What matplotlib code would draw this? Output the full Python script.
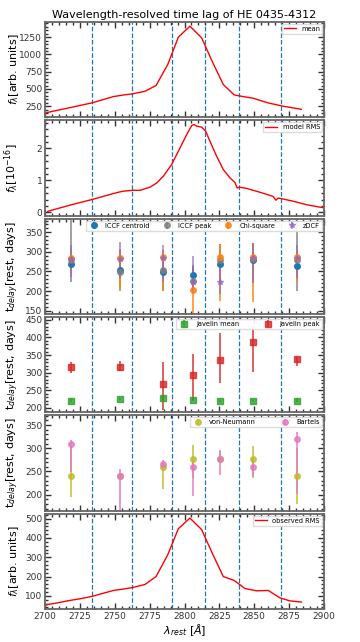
import matplotlib
matplotlib.use("Agg")
import matplotlib.pyplot as plt
import numpy as np
from matplotlib.ticker import AutoMinorLocator, MultipleLocator

# bin edges (dashed lines) and bin wavelengths
bin_edges = [2733.6, 2762.7, 2791.0, 2814.7, 2839.1, 2869.5]
bin_wave = [2718.6, 2753.9, 2784.4, 2805.9, 2825.4, 2848.8, 2880.3]

# mean spectrum
mean_wave = [2700.2, 2708.5, 2716.9, 2725.2, 2733.6, 2741.5, 2749.1, 2756.0, 2762.7, 2771.7,
             2779.6, 2788.0, 2795.6, 2803.9, 2812.3, 2820.1, 2827.8, 2835.6, 2843.3, 2849.2,
             2860.0, 2870.7, 2883.8]
mean_flux = [152, 190, 225, 262, 298, 345, 390, 412, 429, 467,
             550, 854, 1250, 1409, 1240, 888, 564, 414, 385, 366,
             298, 250, 206]

# model rms spectrum
model_wave = [2702.0, 2705.0, 2720.0, 2733.6, 2749.1, 2755.5, 2762.7, 2768.2, 2775.3, 2780.1,
              2784.8, 2790.8, 2796.8, 2801.6, 2805.2, 2806.8, 2808.7, 2812.3, 2815.2, 2818.2,
              2823.0, 2827.8, 2832.6, 2836.1, 2837.8, 2839.2, 2844.5, 2854.0, 2863.5, 2865.5,
              2867.1, 2877.8, 2887.4, 2900.0]
model_flux = [0.03, 0.07, 0.25, 0.40, 0.59, 0.66, 0.69, 0.69, 0.79, 0.92,
              1.13, 1.50, 2.02, 2.44, 2.72, 2.75, 2.70, 2.67, 2.54, 2.23,
              1.76, 1.34, 1.08, 0.94, 0.76, 0.79, 0.75, 0.63, 0.50, 0.38,
              0.45, 0.35, 0.24, 0.14]

# observed rms spectrum
obs_wave = [2700.2, 2708.5, 2716.9, 2725.2, 2733.6, 2741.5, 2749.1, 2756.0, 2762.7, 2771.7,
            2779.6, 2788.0, 2795.6, 2803.9, 2812.3, 2820.1, 2827.8, 2835.6, 2843.3, 2851.7,
            2860.0, 2868.3, 2875.5, 2883.8]
obs_flux = [53, 63, 75, 85, 97, 113, 128, 135, 143, 159,
            200, 313, 448, 503, 443, 318, 200, 180, 138, 126,
            128, 90, 74, 68]

# lags: value, lower error, upper error
iccf_cen = [270, 254, 248, 241, 269, 278, 265]
iccf_cen_lo = [20, 20, 20, 20, 20, 20, 20]
iccf_cen_hi = [20, 20, 20, 20, 20, 20, 20]
iccf_peak = [279, 248, 254, 226, 280, 282, 280]
iccf_peak_lo = [57, 48, 54, 26, 60, 62, 80]
iccf_peak_hi = [140, 60, 40, 40, 40, 40, 120]
chi2 = [285, 285, 286, 203, 286, 286, 286]
chi2_lo = [40, 80, 86, 60, 111, 114, 60]
chi2_hi = [20, 20, 20, 20, 35, 37, 20]
zdcf = [282, 283, 284, 224, 222, 284, 284]
zdcf_lo = [45, 51, 60, 30, 30, 64, 50]
zdcf_hi = [36, 41, 34, 66, 40, 38, 34]

jav_mean = [221, 225, 228, 223, 220, 220, 221]
jav_mean_err = [3, 3, 5, 3, 3, 3, 3]
jav_peak = [317, 317, 269, 292, 335, 388, 340]
jav_peak_lo = [17, 12, 74, 70, 64, 86, 21]
jav_peak_hi = [13, 16, 61, 60, 77, 37, 4]

vn = [241, 241, 259, 276, 276, 276, 241]
vn_lo = [45, 3, 47, 40, 3, 40, 62]
vn_hi = [60, 3, 3, 31, 19, 29, 60]
bartels = [309, 241, 266, 259, 276, 259, 321]
bartels_lo = [60, 80, 7, 62, 33, 22, 120]
bartels_hi = [9, 15, 9, 17, 20, 17, 15]


def style_axis(ax):
    ax.set_xlim(2700, 2900)
    ax.xaxis.set_major_locator(MultipleLocator(25))
    ax.xaxis.set_minor_locator(MultipleLocator(5))
    ax.yaxis.set_minor_locator(AutoMinorLocator(5))
    ax.tick_params(which="both", direction="in", top=True, right=True, labelsize=6.5, colors="0.2", pad=2)
    ax.tick_params(which="major", length=4, width=1)
    ax.tick_params(which="minor", length=2, width=1)
    for spine in ax.spines.values():
        spine.set_color("0.4")
        spine.set_linewidth(1.3)
    for edge in bin_edges:
        ax.axvline(edge, color="tab:blue", linestyle="--", linewidth=0.9, zorder=0)


def add_legend(ax, ncol, spacing=2.0):
    ax.legend(loc="upper right", ncol=ncol, fontsize=4.8, handlelength=1.8, borderpad=0.3,
              columnspacing=spacing, handletextpad=0.8, framealpha=0.9, fancybox=False,
              borderaxespad=0.3, edgecolor="0.85")


def lag(ax, values, lo, hi, color, marker, label, alpha=0.8):
    ax.errorbar(bin_wave, values, yerr=[lo, hi], fmt=marker, color=color, ms=4,
                elinewidth=1.3, alpha=alpha, label=label)


fig, axes = plt.subplots(6, 1, figsize=(3.6, 6.42), dpi=100, sharex=True)
fig.subplots_adjust(left=0.125, right=0.9, top=0.966, bottom=0.051, hspace=0.03)

ax = axes[0]
ax.plot(mean_wave, mean_flux, color="red", lw=1, label="mean")
ax.set_ylabel(r"$f_\lambda$[arb. units]", fontsize=8)
ax.set_title("Wavelength-resolved time lag of HE 0435-4312", fontsize=8, pad=3)
ax.yaxis.set_major_locator(MultipleLocator(250))
add_legend(ax, 1)

ax = axes[1]
ax.plot(model_wave, model_flux, color="red", lw=1, label="model RMS")
ax.set_ylabel(r"$f_\lambda[10^{-16}]$", fontsize=8)
ax.yaxis.set_major_locator(MultipleLocator(1))
add_legend(ax, 1)

ax = axes[2]
lag(ax, iccf_cen, iccf_cen_lo, iccf_cen_hi, "tab:blue", "o", "ICCF centroid", 1.0)
lag(ax, iccf_peak, iccf_peak_lo, iccf_peak_hi, "tab:gray", "o", "ICCF peak")
lag(ax, chi2, chi2_lo, chi2_hi, "tab:orange", "o", "Chi-square")
lag(ax, zdcf, zdcf_lo, zdcf_hi, "tab:purple", "*", "zDCF", 0.7)
ax.set_ylim(141, 385)
ax.yaxis.set_major_locator(MultipleLocator(50))
ax.set_ylabel(r"t$_{delay}$[rest, days]", fontsize=8)
add_legend(ax, 4, 1.6)

ax = axes[3]
lag(ax, jav_mean, jav_mean_err, jav_mean_err, "tab:green", "s", "javelin mean")
lag(ax, jav_peak, jav_peak_lo, jav_peak_hi, "tab:red", "s", "javelin peak")
ax.set_ylim(187, 458)
ax.yaxis.set_major_locator(MultipleLocator(50))
ax.set_ylabel(r"t$_{delay}$[rest, days]", fontsize=8)
add_legend(ax, 2, 3.5)

ax = axes[4]
lag(ax, vn, vn_lo, vn_hi, "tab:olive", "o", "von-Neumann")
lag(ax, bartels, bartels_lo, bartels_hi, "tab:pink", "o", "Bartels")
ax.set_ylim(165, 371)
ax.yaxis.set_major_locator(MultipleLocator(50))
ax.set_ylabel(r"t$_{delay}$[rest, days]", fontsize=8)
add_legend(ax, 2, 3.5)

ax = axes[5]
ax.plot(obs_wave, obs_flux, color="red", lw=1, label="observed RMS")
ax.set_ylabel(r"$f_\lambda$[arb. units]", fontsize=8)
ax.yaxis.set_major_locator(MultipleLocator(100))
ax.set_xlabel(r"$\lambda_{rest}$ [$\AA$]", fontsize=8, labelpad=1)
add_legend(ax, 1)

for ax in axes:
    style_axis(ax)
    ax.yaxis.set_label_coords(-0.085, 0.5)

fig.savefig("out.png", dpi=100)
